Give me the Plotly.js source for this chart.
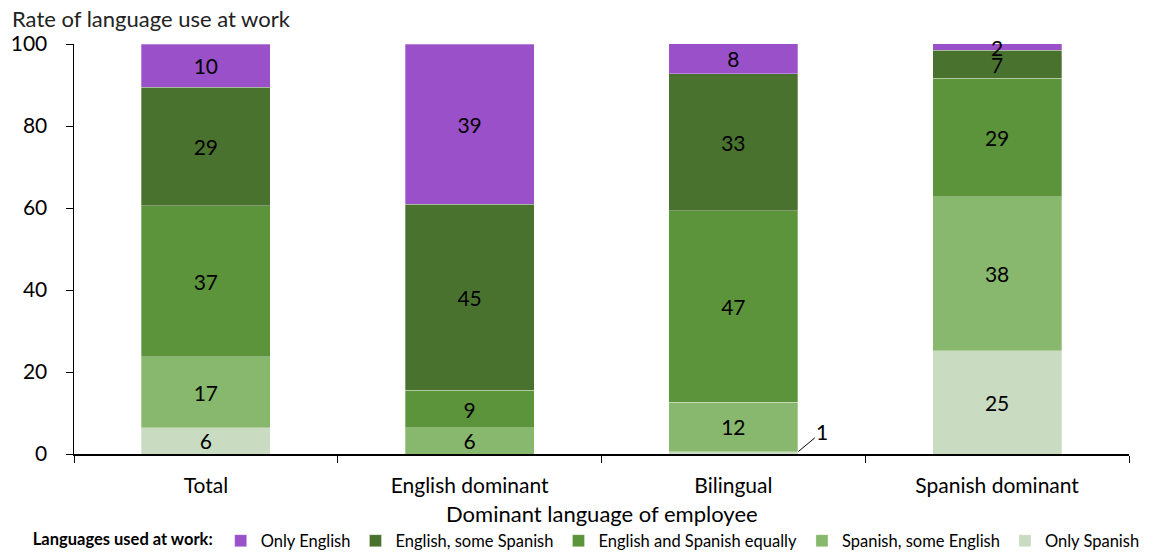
<!DOCTYPE html>
<html>
<head>
<meta charset="utf-8">
<script src="https://cdn.plot.ly/plotly-3.0.1.min.js"></script>
<style>html,body{margin:0;padding:0;background:#fff;}#chart{width:1151px;height:555px;}</style>
</head>
<body>
<div id="chart"></div>
<script>
var categories = ["Total", "English dominant", "Bilingual", "Spanish dominant"];
var onlySpanish = [6.4, 0, 0.6, 25.2];
var spanishSomeEnglish = [17.3, 6.4, 12.0, 37.6];
var bothEqually = [36.9, 9.1, 46.7, 28.9];
var englishSomeSpanish = [28.9, 45.4, 33.4, 6.8];
var onlyEnglish = [10.4, 39.1, 7.6, 1.6];

var labelsOnlySpanish = ["6", "", "", "25"];
var labelsSpanishSomeEnglish = ["17", "6", "12", "38"];
var labelsBothEqually = ["37", "9", "47", "29"];
var labelsEnglishSomeSpanish = ["29", "45", "33", "7"];
var labelsOnlyEnglish = ["10", "39", "8", ""];

var FONT = "Lato, 'Open Sans', sans-serif";

function mk(name, y, labels, color) {
  return {
    type: "bar", name: name, x: categories, y: y,
    text: labels, textposition: "inside", insidetextanchor: "middle",
    textangle: 0, constraintext: "none",
    textfont: {family: FONT, size: 21, color: "#000"},
    marker: {color: color, line: {color: "rgba(255,255,255,0.6)", width: 0.5}},
    hoverinfo: "name+y"
  };
}

var data = [
  mk("Only Spanish", onlySpanish, labelsOnlySpanish, "#C9DCC1"),
  mk("Spanish, some English", spanishSomeEnglish, labelsSpanishSomeEnglish, "#88B86D"),
  mk("English and Spanish equally", bothEqually, labelsBothEqually, "#5C943B"),
  mk("English, some Spanish", englishSomeSpanish, labelsEnglishSomeSpanish, "#4A722F"),
  mk("Only English", onlyEnglish, labelsOnlyEnglish, "#9A50C9")
];
data.forEach(function(t, i){ t.legendrank = 10 - i; });

var layout = {
  width: 1151, height: 555,
  margin: {l: 74, r: 22, t: 44, b: 101, autoexpand: false},
  barmode: "stack", bargap: 0.51,
  paper_bgcolor: "#fff", plot_bgcolor: "#fff",
  font: {family: FONT, color: "#000"},
  showlegend: true,
  legend: {
    orientation: "h", x: 0.487, xanchor: "center", xref: "paper",
    y: -0.212, yanchor: "middle",
    title: {text: "<b>Languages used at work:</b>", side: "left", font: {family: FONT, size: 16.5, color: "#000"}},
    font: {family: FONT, size: 16.5, color: "#000"},
    itemwidth: 30, itemclick: false, traceorder: "normal"
  },
  xaxis: {
    type: "category", showline: true, linecolor: "#000", linewidth: 1.5,
    ticks: "outside", tickson: "boundaries", ticklen: 7, tickcolor: "#000",
    ticklabelstandoff: 12, automargin: false,
    tickfont: {family: FONT, size: 21, color: "#000"},
    showgrid: false, zeroline: false, fixedrange: true
  },
  yaxis: {
    range: [0, 100], tickvals: [0, 20, 40, 60, 80, 100],
    showline: true, linecolor: "#000", linewidth: 1.5,
    ticks: "outside", ticklen: 7, tickcolor: "#000",
    ticklabelstandoff: 14, automargin: false,
    tickfont: {family: FONT, size: 21, color: "#000"},
    showgrid: false, zeroline: false, fixedrange: true
  },
  annotations: [
    {text: "Rate of language use at work", xref: "paper", yref: "paper", x: -0.0605, y: 1.063,
     xanchor: "left", yanchor: "middle", showarrow: false,
     font: {family: FONT, size: 22, color: "#222"}},
    {text: "Dominant language of employee", xref: "paper", yref: "paper", x: 0.5, y: -0.144,
     xanchor: "center", yanchor: "middle", showarrow: false,
     font: {family: FONT, size: 22, color: "#000"}},
    {text: "2", x: "Spanish dominant", y: 99.2, xref: "x", yref: "y",
     showarrow: false, font: {family: FONT, size: 21, color: "#000"}},
    {text: "1", x: "Bilingual", y: onlySpanish[2], xref: "x", yref: "y",
     xshift: 65, showarrow: true, arrowhead: 0, arrowwidth: 1, arrowcolor: "#000",
     ax: 24, ay: -20, font: {family: FONT, size: 21, color: "#000"}}
  ]
};

Plotly.newPlot("chart", data, layout, {displayModeBar: false, staticPlot: true});
</script>
</body>
</html>
